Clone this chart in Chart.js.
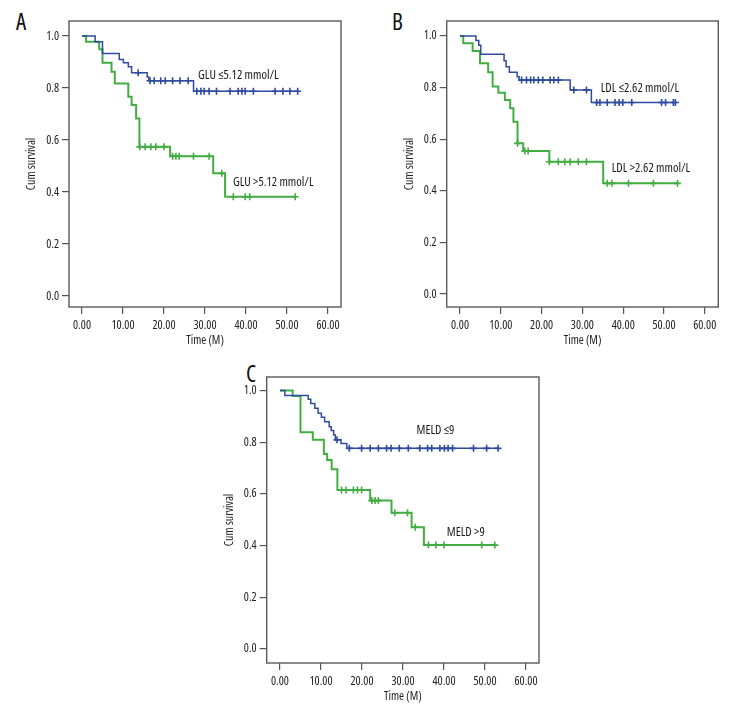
<!DOCTYPE html>
<html>
<head>
<meta charset="utf-8">
<script src="https://cdn.jsdelivr.net/npm/chart.js@4.4.0/dist/chart.umd.min.js"></script>
<style>
  html, body { margin: 0; padding: 0; background: #ffffff; }
  body { width: 756px; height: 720px; position: relative; overflow: hidden;
         font-family: 'Open Sans', sans-serif; font-stretch: 75%; }
  canvas { position: absolute; }
  .letter { position: absolute; font-size: 23px; color: #111; line-height: 1;
            font-family: 'Open Sans', sans-serif; font-stretch: 75%; }
</style>
</head>
<body>
<div class="letter" style="left:16px;top:10px;">A</div>
<div class="letter" style="left:392px;top:10px;">B</div>
<div class="letter" style="left:246px;top:362px;">C</div>
<canvas id="cA" width="378" height="360" style="left:0px;top:0px;"></canvas>
<canvas id="cB" width="378" height="360" style="left:378px;top:0px;"></canvas>
<canvas id="cC" width="378" height="360" style="left:190px;top:360px;"></canvas>
<script>
// ---------- shared axes ----------
const timeTicks = [0, 10, 20, 30, 40, 50, 60];
const survTicks = [0, 0.2, 0.4, 0.6, 0.8, 1.0];
const xTitle = 'Time (M)';
const yTitle = 'Cum survival';

// ---------- Panel A: GLU ----------
const gluLowLabel = 'GLU \u22645.12 mmol/L';
const gluLowTimes = [0, 3.2, 5.0, 9.1, 10.1, 11.3, 12.1, 15.9, 16.3, 27.2];
const gluLowSurv  = [1.0, 0.978, 0.933, 0.910, 0.897, 0.882, 0.859, 0.843, 0.828, 0.788];
const gluLowCensor = [13.7, 16.6, 17.6, 19.2, 20.3, 22.1, 23.9, 25.9, 28.0, 29.0, 29.8, 31.0, 32.8,
                      36.1, 38.1, 39.0, 39.8, 41.8, 47.1, 49.0, 50.7, 52.6];
const gluHighLabel = 'GLU >5.12 mmol/L';
const gluHighTimes = [0, 1.0, 4.2, 5.0, 7.2, 8.0, 11.3, 12.1, 13.2, 14.0, 21.5, 32.0, 34.9];
const gluHighSurv  = [1.0, 0.978, 0.949, 0.897, 0.863, 0.818, 0.767, 0.735, 0.683, 0.574, 0.538, 0.472, 0.382];
const gluHighCensor = [14.1, 15.4, 16.8, 18.0, 20.0, 22.1, 22.9, 23.7, 27.2, 31.0, 34.1, 36.9, 39.8, 40.9, 52.0];

// ---------- Panel B: LDL ----------
const ldlLowLabel = 'LDL \u22642.62 mmol/L';
const ldlLowTimes = [0, 3.9, 4.6, 5.1, 10.8, 11.3, 12.1, 14.0, 14.5, 27.0, 32.2];
const ldlLowSurv  = [1.0, 0.982, 0.964, 0.929, 0.904, 0.881, 0.859, 0.842, 0.829, 0.791, 0.742];
const ldlLowCensor = [15.1, 16.3, 17.3, 18.1, 19.2, 20.3, 22.1, 23.0, 24.1, 27.9, 31.0, 33.5, 34.3, 36.1,
                      38.0, 39.0, 39.9, 42.1, 49.4, 50.4, 52.3, 52.8];
const ldlHighLabel = 'LDL >2.62 mmol/L';
const ldlHighTimes = [0, 0.8, 3.1, 4.9, 6.9, 8.0, 9.4, 11.0, 12.3, 13.1, 14.1, 15.5, 21.9, 35.1];
const ldlHighSurv  = [1.0, 0.972, 0.942, 0.894, 0.859, 0.804, 0.780, 0.752, 0.720, 0.668, 0.584, 0.554, 0.513, 0.429];
const ldlHighCensor = [14.1, 15.9, 16.7, 21.9, 24.1, 25.7, 27.0, 29.0, 31.0, 36.1, 37.2, 41.3, 47.4, 53.3];

// ---------- Panel C: MELD ----------
const meldLowLabel = 'MELD \u22649';
const meldLowTimes = [0, 1.2, 6.9, 7.5, 8.5, 9.3, 10.1, 10.9, 12.0, 12.5, 13.1, 13.5, 14.9, 16.3];
const meldLowSurv  = [1.0, 0.980, 0.966, 0.950, 0.931, 0.912, 0.896, 0.879, 0.860, 0.845, 0.828, 0.809, 0.795, 0.776];
const meldLowCensor = [13.9, 16.9, 19.9, 22.0, 24.0, 26.0, 27.1, 29.1, 31.3, 34.1, 36.0, 37.0, 39.0, 40.1,
                       41.0, 42.1, 47.2, 50.4, 53.2];
const meldHighLabel = 'MELD >9';
const meldHighTimes = [0, 3.1, 5.0, 8.0, 10.7, 11.5, 12.6, 14.0, 22.0, 27.2, 32.1, 35.1];
const meldHighSurv  = [1.0, 0.979, 0.838, 0.809, 0.754, 0.731, 0.695, 0.615, 0.574, 0.527, 0.471, 0.402];
const meldHighCensor = [15.0, 16.1, 17.9, 18.9, 19.9, 22.4, 23.2, 24.0, 28.0, 31.1, 33.0, 36.2, 38.0, 40.0, 49.2, 52.4];

// ---------- styles / layout (not data) ----------
const BLUE = '#2f4b9f';
const GREEN = '#42ad40';
const FONT = "'Open Sans', Roboto, sans-serif";
Chart.defaults.font.family = FONT;
Chart.defaults.font.size = 12;
Chart.defaults.font.weight = 'condensed';   // becomes "normal condensed 12px 'Open Sans'"
Chart.defaults.color = '#222';

function stepPoints(times, surv, censor) {
  const pts = times.map((t, i) => ({ x: t, y: surv[i] }));
  const end = Math.max(times[times.length - 1], ...censor);
  if (end > times[times.length - 1]) pts.push({ x: end, y: surv[surv.length - 1] });
  return pts;
}
function survAt(times, surv, t) {
  let s = surv[0];
  for (let i = 0; i < times.length; i++) if (times[i] <= t) s = surv[i];
  return s;
}
function censorPoints(times, surv, censor) {
  return censor.map(t => ({ x: t, y: survAt(times, surv, t) }));
}
function groupDatasets(times, surv, censor, color, lw) {
  return [
    { type: 'line', data: stepPoints(times, surv, censor), stepped: true, borderColor: color,
      borderWidth: lw, pointRadius: 0, fill: false, tension: 0 },
    { type: 'scatter', data: censorPoints(times, surv, censor), pointStyle: 'cross',
      pointRadius: 3.5, borderColor: color, borderWidth: 1.6, backgroundColor: color, showLine: false }
  ];
}

const framePlugin = {
  id: 'frame',
  afterDraw(chart) {
    const { ctx, chartArea: a } = chart;
    ctx.save();
    ctx.strokeStyle = '#5a5a5a';
    ctx.lineWidth = 1.4;
    ctx.strokeRect(a.left, a.top, a.right - a.left, a.bottom - a.top);
    ctx.restore();
  }
};
const labelPlugin = {
  id: 'groupLabels',
  afterDatasetsDraw(chart, args, opts) {
    const { ctx, scales: { x, y } } = chart;
    ctx.save();
    ctx.fillStyle = '#1a1a1a';
    ctx.font = 'condensed 12.5px ' + FONT;
    ctx.textAlign = 'left';
    ctx.textBaseline = 'middle';
    (opts.items || []).forEach(it => ctx.fillText(it.text, x.getPixelForValue(it.x), y.getPixelForValue(it.y)));
    ctx.restore();
  }
};

function makePanel(id, pos, groups, labels) {
  const lh = 12 * 1.2;
  const yWidth = pos.frame.l - pos.left;
  const xHeight = pos.top + pos.h - pos.frame.b;
  const yTitlePad = (pos.frame.l - 37 - pos.left) - lh / 2;
  const xTitlePad = (pos.top + pos.h) - (pos.frame.b + 34) - lh / 2;
  new Chart(document.getElementById(id), {
    data: { datasets: groups },
    options: {
      responsive: false,
      animation: false,
      events: [],
      layout: { padding: { left: 0, bottom: 0, top: pos.frame.t - pos.top, right: pos.left + pos.w - pos.frame.r } },
      plugins: { legend: { display: false }, tooltip: { enabled: false }, groupLabels: { items: labels } },
      scales: {
        x: {
          type: 'linear', position: 'bottom', min: pos.xMin, max: pos.xMax,
          afterBuildTicks: s => { s.ticks = timeTicks.map(v => ({ value: v })); },
          afterFit: s => { s.height = xHeight; },
          ticks: { callback: v => Number(v).toFixed(2), padding: 4, maxRotation: 0, color: '#222', font: { size: 12 } },
          grid: { display: true, drawOnChartArea: false, drawTicks: true, tickLength: 7, color: '#555', lineWidth: 1.2 },
          border: { display: false },
          title: { display: true, text: xTitle, color: '#222', font: { size: 12 }, padding: { top: 0, bottom: xTitlePad } }
        },
        y: {
          type: 'linear', position: 'left', min: pos.yMin, max: pos.yMax,
          afterBuildTicks: s => { s.ticks = survTicks.map(v => ({ value: v })); },
          afterFit: s => { s.width = yWidth; },
          ticks: { callback: v => Number(v).toFixed(1), padding: 3, color: '#222', font: { size: 12 } },
          grid: { display: true, drawOnChartArea: false, drawTicks: true, tickLength: 7, color: '#555', lineWidth: 1.2 },
          border: { display: false },
          title: { display: true, text: yTitle, color: '#222', font: { size: 12 }, padding: { top: yTitlePad, bottom: 0 } }
        }
      }
    },
    plugins: [framePlugin, labelPlugin]
  });
}

makePanel('cA',
  { left: 0, top: 0, w: 378, h: 360, frame: { l: 69, t: 21, r: 341, b: 307 },
    xMin: -3.17, xMax: 63.17, yMin: -0.042, yMax: 1.058 },
  [...groupDatasets(gluLowTimes, gluLowSurv, gluLowCensor, BLUE, 1.5),
   ...groupDatasets(gluHighTimes, gluHighSurv, gluHighCensor, GREEN, 2)],
  [{ text: gluLowLabel, x: 28.3, y: 0.85 }, { text: gluHighLabel, x: 36.8, y: 0.438 }]);

makePanel('cB',
  { left: 378, top: 0, w: 378, h: 360, frame: { l: 446.7, t: 21, r: 718.3, b: 307 },
    xMin: -3.26, xMax: 63.31, yMin: -0.050, yMax: 1.058 },
  [...groupDatasets(ldlLowTimes, ldlLowSurv, ldlLowCensor, BLUE, 1.5),
   ...groupDatasets(ldlHighTimes, ldlHighSurv, ldlHighCensor, GREEN, 2)],
  [{ text: ldlLowLabel, x: 34.5, y: 0.797 }, { text: ldlHighLabel, x: 37.2, y: 0.487 }]);

makePanel('cC',
  { left: 190, top: 360, w: 378, h: 360, frame: { l: 266.7, t: 377, r: 539, b: 663 },
    xMin: -3.24, xMax: 63.17, yMin: -0.054, yMax: 1.052 },
  [...groupDatasets(meldLowTimes, meldLowSurv, meldLowCensor, BLUE, 1.5),
   ...groupDatasets(meldHighTimes, meldHighSurv, meldHighCensor, GREEN, 2)],
  [{ text: meldLowLabel, x: 33.3, y: 0.847 }, { text: meldHighLabel, x: 40.7, y: 0.45 }]);
</script>
</body>
</html>
